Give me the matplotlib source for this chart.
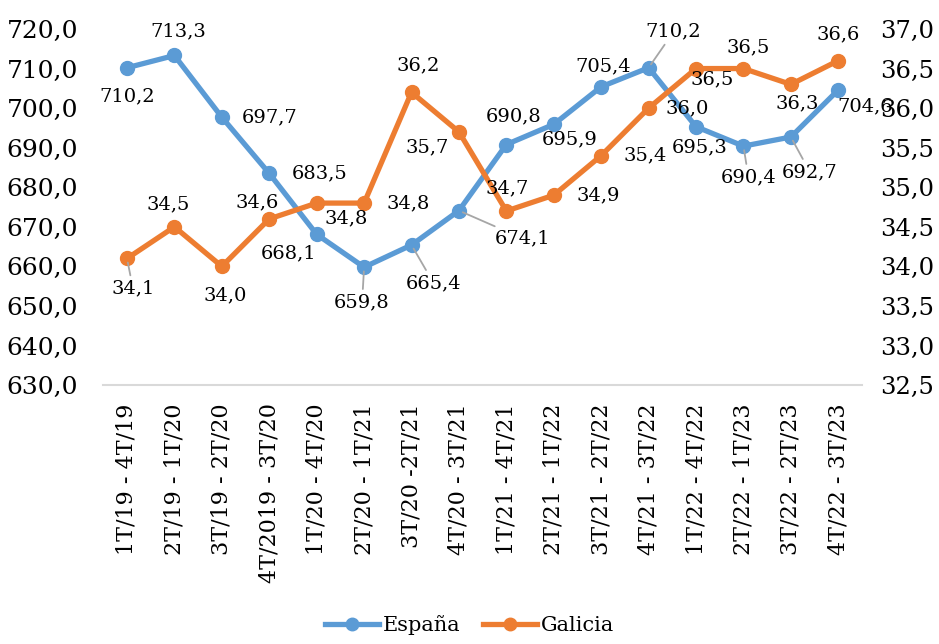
import matplotlib.pyplot as plt

# Data
periods = ['1T/19 - 4T/19', '2T/19 - 1T/20', '3T/19 - 2T/20', '4T/2019 - 3T/20',
           '1T/20 - 4T/20', '2T/20 - 1T/21', '3T/20 -2T/21', '4T/20 - 3T/21',
           '1T/21 - 4T/21', '2T/21 - 1T/22', '3T/21 - 2T/22', '4T/21 - 3T/22',
           '1T/22 - 4T/22', '2T/22 - 1T/23', '3T/22 - 2T/23', '4T/22 - 3T/23']
espana = [710.2, 713.3, 697.7, 683.5, 668.1, 659.8, 665.4, 674.1,
          690.8, 695.9, 705.4, 710.2, 695.3, 690.4, 692.7, 704.6]
galicia = [34.1, 34.5, 34.0, 34.6, 34.8, 34.8, 36.2, 35.7,
           34.7, 34.9, 35.4, 36.0, 36.5, 36.5, 36.3, 36.6]

# label offsets in pixels (dx, dy down), and whether a leader line is drawn
esp_off = [(0, 29), (4, -24), (48, 0), (50, 0), (-28, 19), (-2, 35), (22, 38), (64, 28),
           (7, -28), (16, 15), (2, -20), (25, -36), (4, 21), (5, 31), (19, 35), (27, 16)]
esp_lead = [5, 6, 7, 11, 13, 14]
gal_off = [(6, 30), (-6, -22), (3, 29), (-12, -17), (30, 15), (44, 0), (7, -27), (-32, 15),
           (1, -23), (44, 0), (44, 0), (39, 0), (16, 11), (5, -21), (6, 19), (0, -26)]
gal_lead = [0]

BLUE = '#5b9bd5'
ORANGE = '#ed7d31'
FONT = 'DejaVu Serif'
plt.rcParams['font.family'] = FONT

fig = plt.figure(figsize=(9.39, 6.44), dpi=100)
ax = fig.add_axes([0.110, 0.402, 0.808, 0.553])
ax2 = ax.twinx()

x = list(range(len(periods)))
l1, = ax.plot(x, espana, color=BLUE, lw=3.8, marker='o', ms=10, label='España', zorder=3)
l2, = ax2.plot(x, galicia, color=ORANGE, lw=3.8, marker='o', ms=10, label='Galicia', zorder=3)

ax.set_xlim(-0.5, len(periods) - 0.5)
ax.set_ylim(630, 720)
ax2.set_ylim(32.5, 37.0)
ax.set_yticks(range(630, 721, 10))
ax.set_yticklabels([f'{v:.1f}'.replace('.', ',') for v in range(630, 721, 10)])
r_ticks = [32.5 + 0.5 * i for i in range(10)]
ax2.set_yticks(r_ticks)
ax2.set_yticklabels([f'{v:.1f}'.replace('.', ',') for v in r_ticks])

ax.set_xticks(x)
ax.set_xticklabels(periods, rotation=90, fontsize=16)
ax.tick_params(axis='x', length=0, pad=13)
ax.tick_params(axis='y', length=0, labelsize=18, pad=18)
ax2.tick_params(axis='y', length=0, labelsize=17.5, pad=13)

for a in (ax, ax2):
    for s in a.spines.values():
        s.set_visible(False)
ax.spines['bottom'].set_visible(True)
ax.spines['bottom'].set_color('#d9d9d9')
ax.spines['bottom'].set_linewidth(1.5)

def labels(axis, vals, offs, leads):
    for i, v in enumerate(vals):
        dx, dy = offs[i]
        kw = {}
        if i in leads:
            kw['arrowprops'] = dict(arrowstyle='-', color='#a6a6a6', lw=1.3,
                                    shrinkA=1, shrinkB=3)
        axis.annotate(f'{v:.1f}'.replace('.', ','), (i, v),
                      xytext=(dx * 0.72, -dy * 0.72), textcoords='offset points',
                      ha='center', va='center', fontsize=14, zorder=5, **kw)

labels(ax, espana, esp_off, esp_lead)
labels(ax2, galicia, gal_off, gal_lead)

fig.legend(handles=[l1, l2], loc='lower center', bbox_to_anchor=(0.5, -0.015),
           ncol=2, frameon=False, fontsize=15, handlelength=2.6, columnspacing=1.1,
           handletextpad=0.15, markerscale=0.9)

fig.savefig('out.png', dpi=100)
